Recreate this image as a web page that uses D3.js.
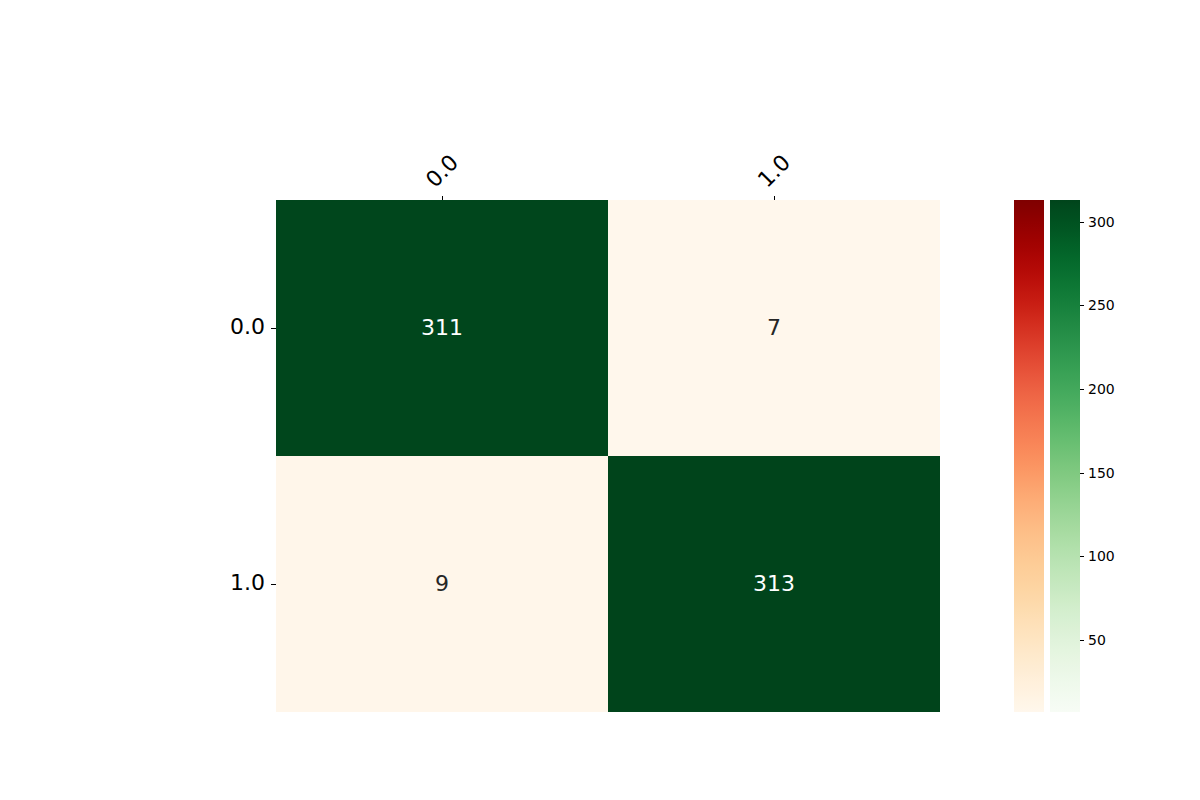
<!DOCTYPE html>
<html>
<head>
<meta charset="utf-8">
<style>
  body { margin: 0; background: #fff; }
  svg { font-family: "DejaVu Sans", sans-serif; }
</style>
</head>
<body>
<svg id="chart" width="1200" height="800"></svg>
<script src="https://d3js.org/d3.v7.min.js"></script>
<script>
'use strict';

var labels = ['0.0', '1.0'];
var matrix = [[311, 7], [9, 313]];
var vmin = 7, vmax = 313;
var cbTicks = [50, 100, 150, 200, 250, 300];

var svg = d3.select('#chart');

var plotLeft = 276, plotTop = 200, plotW = 664, plotH = 512;

var x = d3.scaleBand().domain(labels).range([plotLeft, plotLeft + plotW]);
var y = d3.scaleBand().domain(labels).range([plotTop, plotTop + plotH]);

var redScale = d3.scaleSequential(d3.interpolateOrRd).domain([vmin, vmax]);
var greenScale = d3.scaleSequential(d3.interpolateGreens).domain([vmin, vmax]);

var cells = [];
matrix.forEach(function(row, i) {
  row.forEach(function(v, j) {
    cells.push({ r: labels[i], c: labels[j], v: v, diag: i === j });
  });
});

svg.append('g').selectAll('rect')
  .data(cells).join('rect')
    .attr('x', function(d) { return x(d.c); })
    .attr('y', function(d) { return y(d.r); })
    .attr('width', x.bandwidth())
    .attr('height', y.bandwidth())
    .attr('fill', function(d) { return d.diag ? greenScale(d.v) : redScale(d.v); })
    .attr('shape-rendering', 'crispEdges');

svg.append('g').selectAll('text')
  .data(cells).join('text')
    .attr('x', function(d) { return x(d.c) + x.bandwidth() / 2; })
    .attr('y', function(d) { return y(d.r) + y.bandwidth() / 2 - 1; })
    .attr('text-anchor', 'middle')
    .attr('dominant-baseline', 'central')
    .attr('font-size', 22)
    .attr('fill', function(d) { return d.v > (vmin + vmax) / 2 ? '#ffffff' : '#262626'; })
    .text(function(d) { return d.v; });

// top axis
var xAxis = svg.append('g')
  .attr('transform', 'translate(0,' + plotTop + ')')
  .call(d3.axisTop(x).tickSize(4).tickPadding(0));
xAxis.select('.domain').remove();
xAxis.selectAll('line').attr('stroke', '#000').attr('shape-rendering', 'crispEdges');
xAxis.selectAll('text')
  .attr('font-size', 22)
  .attr('font-family', '"DejaVu Sans", sans-serif')
  .attr('fill', '#000')
  .attr('text-anchor', 'middle')
  .attr('dominant-baseline', 'central')
  .attr('transform', 'translate(0,-29) rotate(-45)')
  .attr('y', 0).attr('dy', null);

// left axis
var yAxis = svg.append('g')
  .attr('transform', 'translate(' + plotLeft + ',0)')
  .call(d3.axisLeft(y).tickSize(5).tickPadding(6));
yAxis.select('.domain').remove();
yAxis.selectAll('line').attr('stroke', '#000').attr('shape-rendering', 'crispEdges');
yAxis.selectAll('text')
  .attr('font-size', 22)
  .attr('font-family', '"DejaVu Sans", sans-serif')
  .attr('fill', '#000')
  .attr('dy', '0.28em');

// colorbars
var cbY = d3.scaleLinear().domain([vmin, vmax]).range([plotTop + plotH, plotTop]);
var defs = svg.append('defs');
function gradient(id, scale) {
  var g = defs.append('linearGradient').attr('id', id)
    .attr('x1', 0).attr('y1', 1).attr('x2', 0).attr('y2', 0);
  d3.range(0, 1.0001, 0.02).forEach(function(t) {
    g.append('stop').attr('offset', t)
      .attr('stop-color', scale(vmin + t * (vmax - vmin)));
  });
}
gradient('gRed', redScale);
gradient('gGreen', greenScale);

svg.append('rect')
  .attr('x', 1014).attr('y', cbY(vmax))
  .attr('width', 30).attr('height', cbY(vmin) - cbY(vmax))
  .attr('fill', 'url(#gRed)');
svg.append('rect')
  .attr('x', 1050).attr('y', cbY(vmax))
  .attr('width', 30).attr('height', cbY(vmin) - cbY(vmax))
  .attr('fill', 'url(#gGreen)');

var cbAxis = svg.append('g')
  .attr('transform', 'translate(1080,0)')
  .call(d3.axisRight(cbY).tickValues(cbTicks).tickSize(4).tickPadding(4));
cbAxis.select('.domain').remove();
cbAxis.selectAll('line').attr('stroke', '#000').attr('shape-rendering', 'crispEdges');
cbAxis.selectAll('text')
  .attr('font-size', 14)
  .attr('font-family', '"DejaVu Sans", sans-serif')
  .attr('fill', '#000');
</script>
</body>
</html>
